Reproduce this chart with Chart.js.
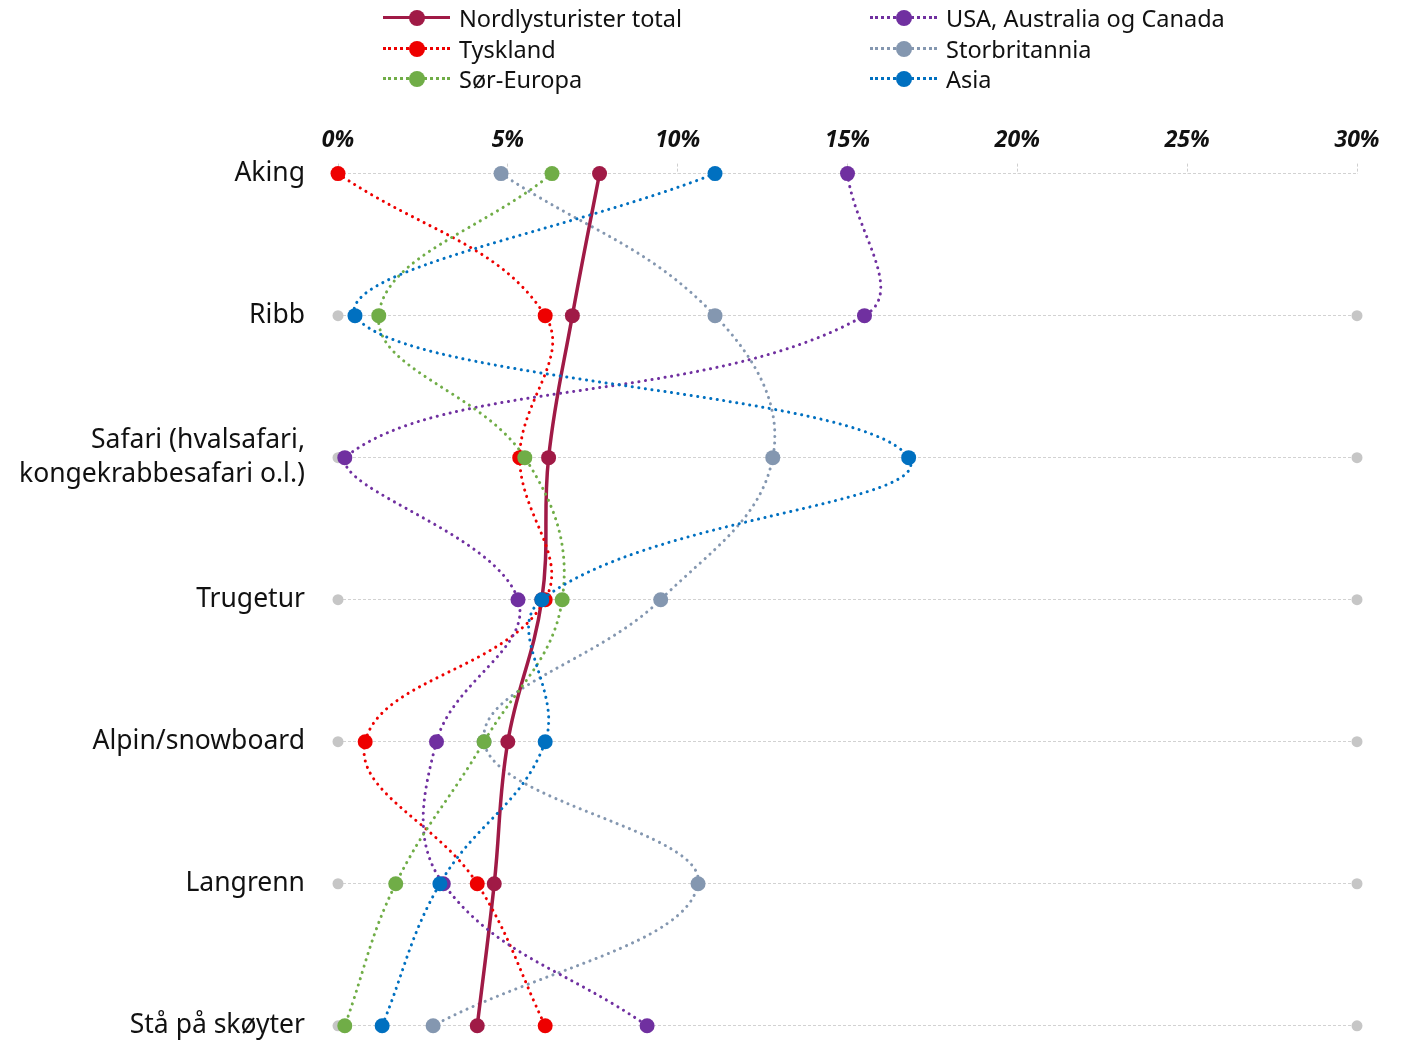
<!DOCTYPE html>
<html>
<head>
<meta charset="utf-8">
<script src="https://cdn.jsdelivr.net/npm/chart.js@4"></script>
<style>
  html, body { margin: 0; padding: 0; background: #fff; overflow: hidden; }
  #wrap { position: relative; width: 1409px; height: 1041px; overflow: hidden; }
  #legend { position: absolute; left: 0; top: 0; width: 1409px; height: 100px; font-family: "Noto Sans", sans-serif; font-size: 23.5px; color: #111; }
  .item { position: absolute; height: 30px; display: flex; align-items: center; white-space: nowrap; }
  .sample { position: relative; width: 67px; height: 30px; margin-right: 9px; }
  .sample .ln { position: absolute; left: 0; right: 0; top: 13px; }
  .sample .dot { position: absolute; left: 26px; top: 7px; width: 16px; height: 16px; border-radius: 50%; }
  canvas { position: absolute; left: 0; top: 0; }
</style>
</head>
<body>
<div id="wrap">
  <canvas id="chart" width="1409" height="1076"></canvas>
  <div id="legend"></div>
</div>
<script>
const categories = ['Aking', 'Ribb', ['Safari (hvalsafari,', 'kongekrabbesafari o.l.)'], 'Trugetur', 'Alpin/snowboard', 'Langrenn', 'Stå på skøyter'];
const xTicks = [0, 5, 10, 15, 20, 25, 30];

const total = [7.7, 6.9, 6.2, 6.0, 5.0, 4.6, 4.1];
const tyskland = [0.0, 6.1, 5.35, 6.1, 0.8, 4.1, 6.1];
const sorEuropa = [6.3, 1.2, 5.5, 6.6, 4.3, 1.7, 0.2];
const usa = [15.0, 15.5, 0.2, 5.3, 2.9, 3.1, 9.1];
const storbritannia = [4.8, 11.1, 12.8, 9.5, 4.3, 10.6, 2.8];
const asia = [11.1, 0.5, 16.8, 6.0, 6.1, 3.0, 1.3];
const rangeMin = [null, 0, 0, 0, 0, 0, 0];
const rangeMax = [null, 30, 30, 30, 30, 30, 30];

const series = [
    { label: 'Nordlysturister total', data: total, color: '#A01A46', solid: true, order: 6, col: 0, row: 0 },
    { label: 'Tyskland', data: tyskland, color: '#EE0000', order: 5, col: 0, row: 1 },
    { label: 'Sør-Europa', data: sorEuropa, color: '#70AD47', order: 3, col: 0, row: 2 },
    { label: 'USA, Australia og Canada', data: usa, color: '#7030A0', order: 4, col: 1, row: 0 },
    { label: 'Storbritannia', data: storbritannia, color: '#8497B0', order: 7, col: 1, row: 1 },
    { label: 'Asia', data: asia, color: '#0070C0', order: 1, col: 1, row: 2 }
];

const datasets = series.map(s => ({
    label: s.label,
    data: s.data,
    borderColor: s.color,
    backgroundColor: s.color,
    pointBackgroundColor: s.color,
    pointBorderWidth: 0,
    pointRadius: 7.5,
    borderWidth: s.solid ? 3.5 : 3,
    borderDash: s.solid ? [] : [0.1, 6.5],
    borderCapStyle: 'round',
    tension: 0.4,
    clip: false,
    order: s.order
}));

[rangeMin, rangeMax].forEach(d => {
    datasets.push({
        label: '',
        data: d,
        showLine: false,
        pointRadius: 5.5,
        pointBorderWidth: 0,
        pointBackgroundColor: '#C6C6C6',
        clip: false,
        order: 10
    });
});

// legend i to kolonner
const legend = document.getElementById('legend');
series.forEach(s => {
    const item = document.createElement('div');
    item.className = 'item';
    item.style.left = (s.col === 0 ? 383 : 870) + 'px';
    item.style.top = (3 + s.row * 30.5) + 'px';
    const line = s.solid
        ? `border-top: 3.5px solid ${s.color};`
        : `border-top: 3px dotted ${s.color};`;
    item.innerHTML = `<span class="sample"><span class="ln" style="${line}"></span><span class="dot" style="background:${s.color}"></span></span>${s.label}`;
    legend.appendChild(item);
});

const ctx = document.getElementById('chart').getContext('2d');
new Chart(ctx, {
    type: 'line',
    data: { labels: categories, datasets: datasets },
    options: {
        indexAxis: 'y',
        responsive: false,
        animation: false,
        layout: { padding: { top: 118, right: 52, bottom: 0, left: 10 } },
        plugins: { legend: { display: false }, tooltip: { enabled: false } },
        scales: {
            x: {
                type: 'linear',
                position: 'top',
                min: 0,
                max: 30,
                afterBuildTicks: scale => { scale.ticks = xTicks.map(v => ({ value: v })); },
                ticks: {
                    callback: v => v + '%',
                    color: '#111',
                    padding: 9,
                    maxRotation: 0,
                    font: { family: 'Noto Sans', size: 23, weight: 'bold', style: 'italic' }
                },
                grid: {
                    drawOnChartArea: false,
                    drawTicks: true,
                    tickLength: 10,
                    color: '#CFCFCF',
                    tickBorderDash: [3, 2],
                    lineWidth: 1
                },
                border: { display: false }
            },
            y: {
                type: 'category',
                offset: false,
                afterFit: scale => { scale.width = 328; },
                ticks: {
                    color: '#111',
                    padding: 33,
                    font: { family: 'Noto Sans', size: 26.5, lineHeight: 1.3 }
                },
                grid: {
                    drawTicks: false,
                    color: '#D2D2D2',
                    lineWidth: 1
                },
                border: { display: false, dash: [3, 2] }
            }
        }
    }
});
</script>
</body>
</html>
